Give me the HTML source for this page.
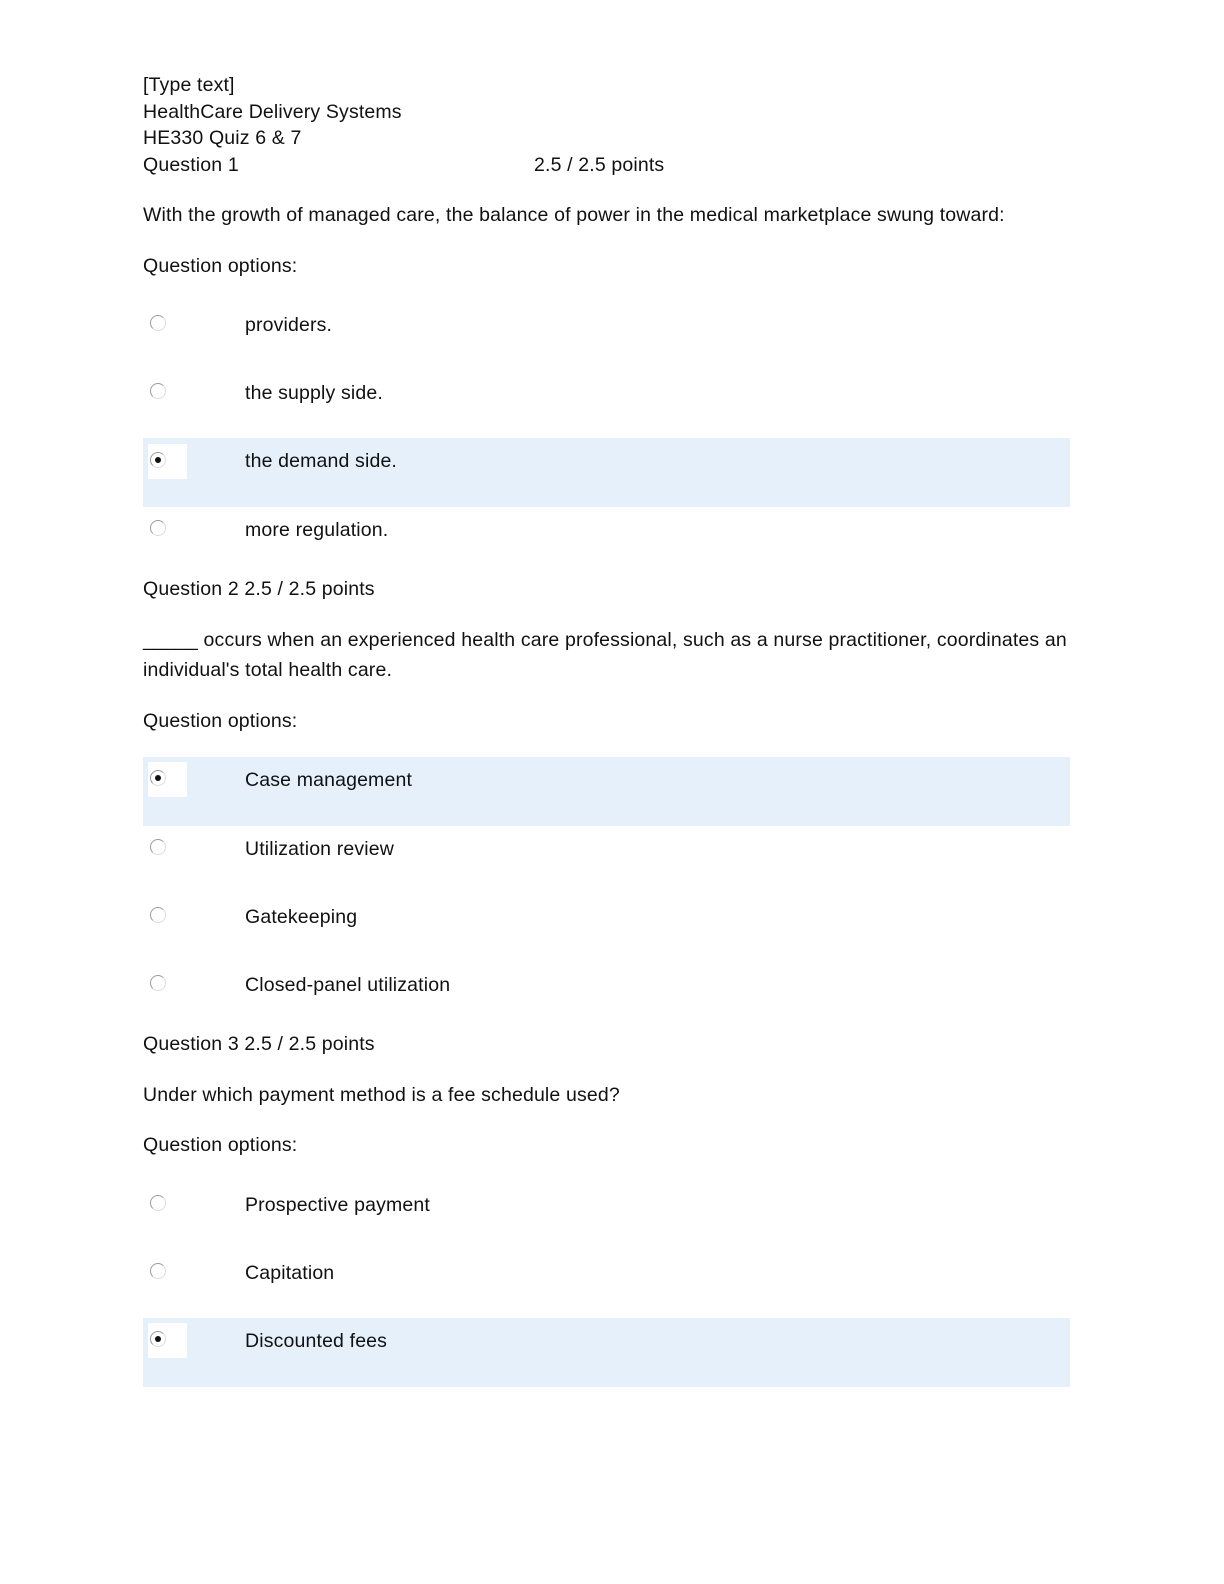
<!DOCTYPE html>
<html><head><style>
body{margin:0;background:#fff;}
.p{position:relative;width:1224px;height:1584px;font-family:"Liberation Sans",sans-serif;font-size:19.5px;letter-spacing:0.15px;color:#111;}
.t{position:absolute;left:143px;white-space:nowrap;line-height:22px;}
.o{position:absolute;left:245px;white-space:nowrap;line-height:22px;}
.hl{position:absolute;left:143px;width:927px;height:69px;background:#e6f0fb;}
.wb{position:absolute;left:148px;width:39px;height:35px;background:#fff;}
.r{position:absolute;left:150px;width:14px;height:14px;border-radius:50%;border:1.5px solid #9a9a9a;border-right-color:#ddd;border-bottom-color:#ddd;background:#fff;}
.r.s::after{content:"";position:absolute;left:4px;top:4px;width:6px;height:6px;border-radius:50%;background:#111;}
</style></head><body><div class="p">
<div class="t" style="top:74px">[Type text]</div>
<div class="t" style="top:101px">HealthCare Delivery Systems</div>
<div class="t" style="top:127px">HE330 Quiz 6 &amp; 7</div>
<div class="t" style="top:154px">Question 1</div>
<div class="t" style="top:154px;left:534px">2.5 / 2.5 points</div>
<div class="t" style="top:204px">With the growth of managed care, the balance of power in the medical marketplace swung toward:</div>
<div class="t" style="top:255px">Question options:</div>

<div class="r" style="top:315px"></div><div class="o" style="top:314px">providers.</div>
<div class="r" style="top:383px"></div><div class="o" style="top:382px">the supply side.</div>
<div class="hl" style="top:438px"></div><div class="wb" style="top:444px"></div>
<div class="r s" style="top:452px"></div><div class="o" style="top:450px">the demand side.</div>
<div class="r" style="top:520px"></div><div class="o" style="top:519px">more regulation.</div>

<div class="t" style="top:578px">Question 2 2.5 / 2.5 points</div>
<div class="t" style="top:629px">_____ occurs when an experienced health care professional, such as a nurse practitioner, coordinates an</div>
<div class="t" style="top:659px">individual's total health care.</div>
<div class="t" style="top:710px">Question options:</div>

<div class="hl" style="top:757px"></div><div class="wb" style="top:762px"></div>
<div class="r s" style="top:770px"></div><div class="o" style="top:769px">Case management</div>
<div class="r" style="top:839px"></div><div class="o" style="top:838px">Utilization review</div>
<div class="r" style="top:907px"></div><div class="o" style="top:906px">Gatekeeping</div>
<div class="r" style="top:975px"></div><div class="o" style="top:974px">Closed-panel utilization</div>

<div class="t" style="top:1033px">Question 3 2.5 / 2.5 points</div>
<div class="t" style="top:1084px">Under which payment method is a fee schedule used?</div>
<div class="t" style="top:1134px">Question options:</div>

<div class="r" style="top:1195px"></div><div class="o" style="top:1194px">Prospective payment</div>
<div class="r" style="top:1263px"></div><div class="o" style="top:1262px">Capitation</div>
<div class="hl" style="top:1318px"></div><div class="wb" style="top:1323px"></div>
<div class="r s" style="top:1331px"></div><div class="o" style="top:1330px">Discounted fees</div>
</div></body></html>
